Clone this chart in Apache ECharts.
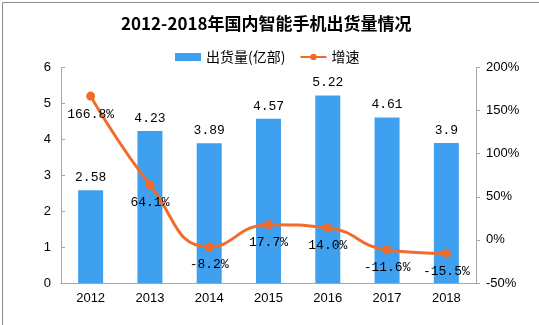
<!DOCTYPE html>
<html>
<head>
<meta charset="utf-8">
<script src="https://cdn.jsdelivr.net/npm/echarts@6/dist/echarts.min.js"></script>
<style>html,body{margin:0;padding:0;background:#fff;}#chart{width:539px;height:325px;}</style>
</head>
<body>
<div id="chart"></div>
<script>
var categories = ['2012', '2013', '2014', '2015', '2016', '2017', '2018'];
var shipments = [2.58, 4.23, 3.89, 4.57, 5.22, 4.61, 3.9];
var growth = [166.8, 64.1, -8.2, 17.7, 14.0, -11.6, -15.5];
var growthLabels = ['166.8%', '64.1%', '-8.2%', '17.7%', '14.0%', '-11.6%', '-15.5%'];

var chart = echarts.init(document.getElementById('chart'));
var axisColor = '#a6a6a6';
var labelFont = '"Liberation Mono", "DejaVu Sans Mono", monospace';
chart.setOption({
  animation: false,
  backgroundColor: '#fff',
  graphic: [{
    type: 'rect', left: 0, top: 0, z: -10,
    shape: { x: 0.5, y: 0.5, width: 538, height: 324 },
    style: { fill: 'none', stroke: '#8c8c8c', lineWidth: 1 }
  }],
  title: {
    text: '2012-2018年国内智能手机出货量情况',
    left: 116, top: 10,
    textStyle: { fontSize: 17, fontWeight: 'bold', color: '#000', fontFamily: '"Noto Sans CJK SC", sans-serif' }
  },
  legend: {
    top: 45, left: 170, itemGap: 14,
    itemWidth: 26, itemHeight: 8,
    textStyle: { fontSize: 14, color: '#000', fontFamily: '"Noto Sans CJK SC", sans-serif' },
    data: [
      { name: '出货量(亿部)', icon: 'rect' },
      { name: '增速' }
    ]
  },
  grid: { left: 61, right: 63, top: 67.5, bottom: 42 },
  xAxis: {
    type: 'category', data: categories,
    axisLine: { lineStyle: { color: axisColor } },
    axisTick: { length: 5, lineStyle: { color: axisColor } },
    axisLabel: { color: '#000', fontSize: 13, margin: 9, fontFamily: '"Liberation Sans", Arial, sans-serif' }
  },
  yAxis: [{
    type: 'value', min: 0, max: 6, interval: 1,
    splitLine: { show: false },
    axisLine: { show: true, lineStyle: { color: axisColor } },
    axisTick: { show: true, inside: true, length: 4, lineStyle: { color: axisColor } },
    axisLabel: { color: '#000', fontSize: 13, margin: 10, fontFamily: '"Liberation Sans", Arial, sans-serif' }
  }, {
    type: 'value', min: -50, max: 200, interval: 50,
    splitLine: { show: false },
    axisLine: { show: true, lineStyle: { color: axisColor } },
    axisTick: { show: true, length: 4, lineStyle: { color: axisColor } },
    axisLabel: { color: '#000', fontSize: 13, margin: 10, formatter: '{value}%', fontFamily: '"Liberation Sans", Arial, sans-serif' }
  }],
  series: [{
    name: '出货量(亿部)', type: 'bar', data: shipments, barWidth: 25,
    itemStyle: { color: '#40a0f0' },
    label: { show: true, position: 'top', distance: 6, color: '#000', fontSize: 13, fontFamily: labelFont }
  }, {
    name: '增速', type: 'line', yAxisIndex: 1, data: growth, smooth: 0.5,
    symbol: 'circle', symbolSize: 9,
    lineStyle: { color: '#f26b2a', width: 3 },
    itemStyle: { color: '#f26b2a' },
    label: {
      show: true, position: 'bottom', distance: 7, color: '#000', fontSize: 13, fontFamily: labelFont,
      formatter: function (p) { return growthLabels[p.dataIndex]; }
    }
  }]
});
</script>
</body>
</html>
